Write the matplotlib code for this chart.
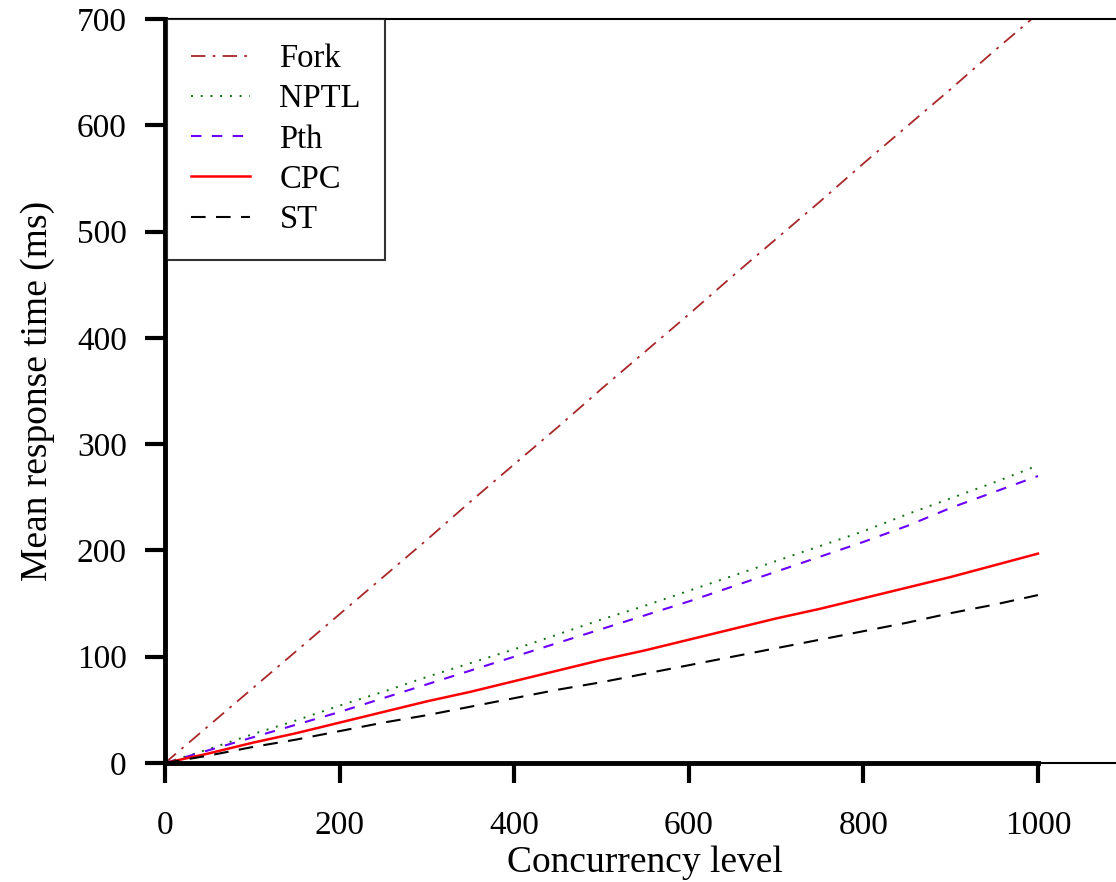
import matplotlib
matplotlib.use('Agg')
import matplotlib.pyplot as plt

# concurrency levels and mean response times (ms)
level = [0, 50, 100, 150, 200, 250, 300, 350, 400, 450, 500,
         550, 600, 650, 700, 750, 800, 850, 900, 950, 1000]
fork = [0, 35, 70, 105, 140, 175, 210, 246, 281, 316, 352,
        387, 422, 458, 493, 528, 564, 599, 634, 670, 705]
nptl = [0, 13, 27, 40, 54, 67, 81, 94, 107, 121, 135,
        148, 162, 176, 190, 204, 218, 234, 249, 264, 280]
pth = [0, 12, 24, 36, 48, 61, 74, 87, 100, 113, 126,
       139, 152, 166, 180, 194, 208, 223, 240, 255, 270]
cpc = [0, 9, 19, 28, 38, 48, 58, 67, 77, 87, 97,
       106, 116, 126, 136, 145, 155, 165, 175, 186, 197]
st = [0, 7, 15, 22, 30, 38, 45, 53, 61, 69, 76,
      84, 92, 100, 108, 116, 124, 132, 141, 149, 158]

xticks = [0, 200, 400, 600, 800, 1000]
yticks = [0, 100, 200, 300, 400, 500, 600, 700]

plt.rcParams['font.family'] = ['Liberation Serif', 'DejaVu Serif']

fig = plt.figure(figsize=(11.16, 8.82), dpi=100)
ax = fig.add_axes([0.1478, 0.1349, 0.8605, 0.8436])

ax.plot(level, fork, color='#a8282a', lw=1.3, linestyle=(0, (8, 4, 1.5, 4)), label='Fork')
ax.plot(level, nptl, color='#107010', lw=1.4, linestyle=(0, (1, 4)), label='NPTL')
ax.plot(level, pth, color='#6a00ff', lw=1.5, linestyle=(0, (5, 5)), label='Pth')
ax.plot(level, cpc, color='#ff0000', lw=1.8, label='CPC')
ax.plot(level, st, color='black', lw=1.5, linestyle=(0, (7, 5)), label='ST')

ax.set_xlim(0, 1100)
ax.set_ylim(0, 700)
ax.set_xticks(xticks)
ax.set_yticks(yticks)
ax.tick_params(direction='out', length=14.5, width=3, labelsize=24)
ax.tick_params(axis='x', pad=20)
ax.tick_params(axis='y', pad=13)

for s in ax.spines.values():
    s.set_linewidth(1.5)
ax.spines['left'].set_linewidth(3.5)
ax.plot([0, 1000], [0, 0], color='black', lw=3.5, clip_on=False, zorder=5)

ax.set_xlabel('Concurrency level', fontsize=27, labelpad=3)
ax.set_ylabel('Mean response time (ms)', fontsize=27, labelpad=16)

leg = ax.legend(loc='upper left', bbox_to_anchor=(0.002, 1), borderaxespad=0,
                fontsize=23.5, frameon=True, fancybox=False, edgecolor='black',
                handlelength=1.8, handletextpad=0.9, labelspacing=0.3,
                borderpad=0.75)
leg.get_frame().set_linewidth(1.5)

fig.savefig('out.png', dpi=100)
